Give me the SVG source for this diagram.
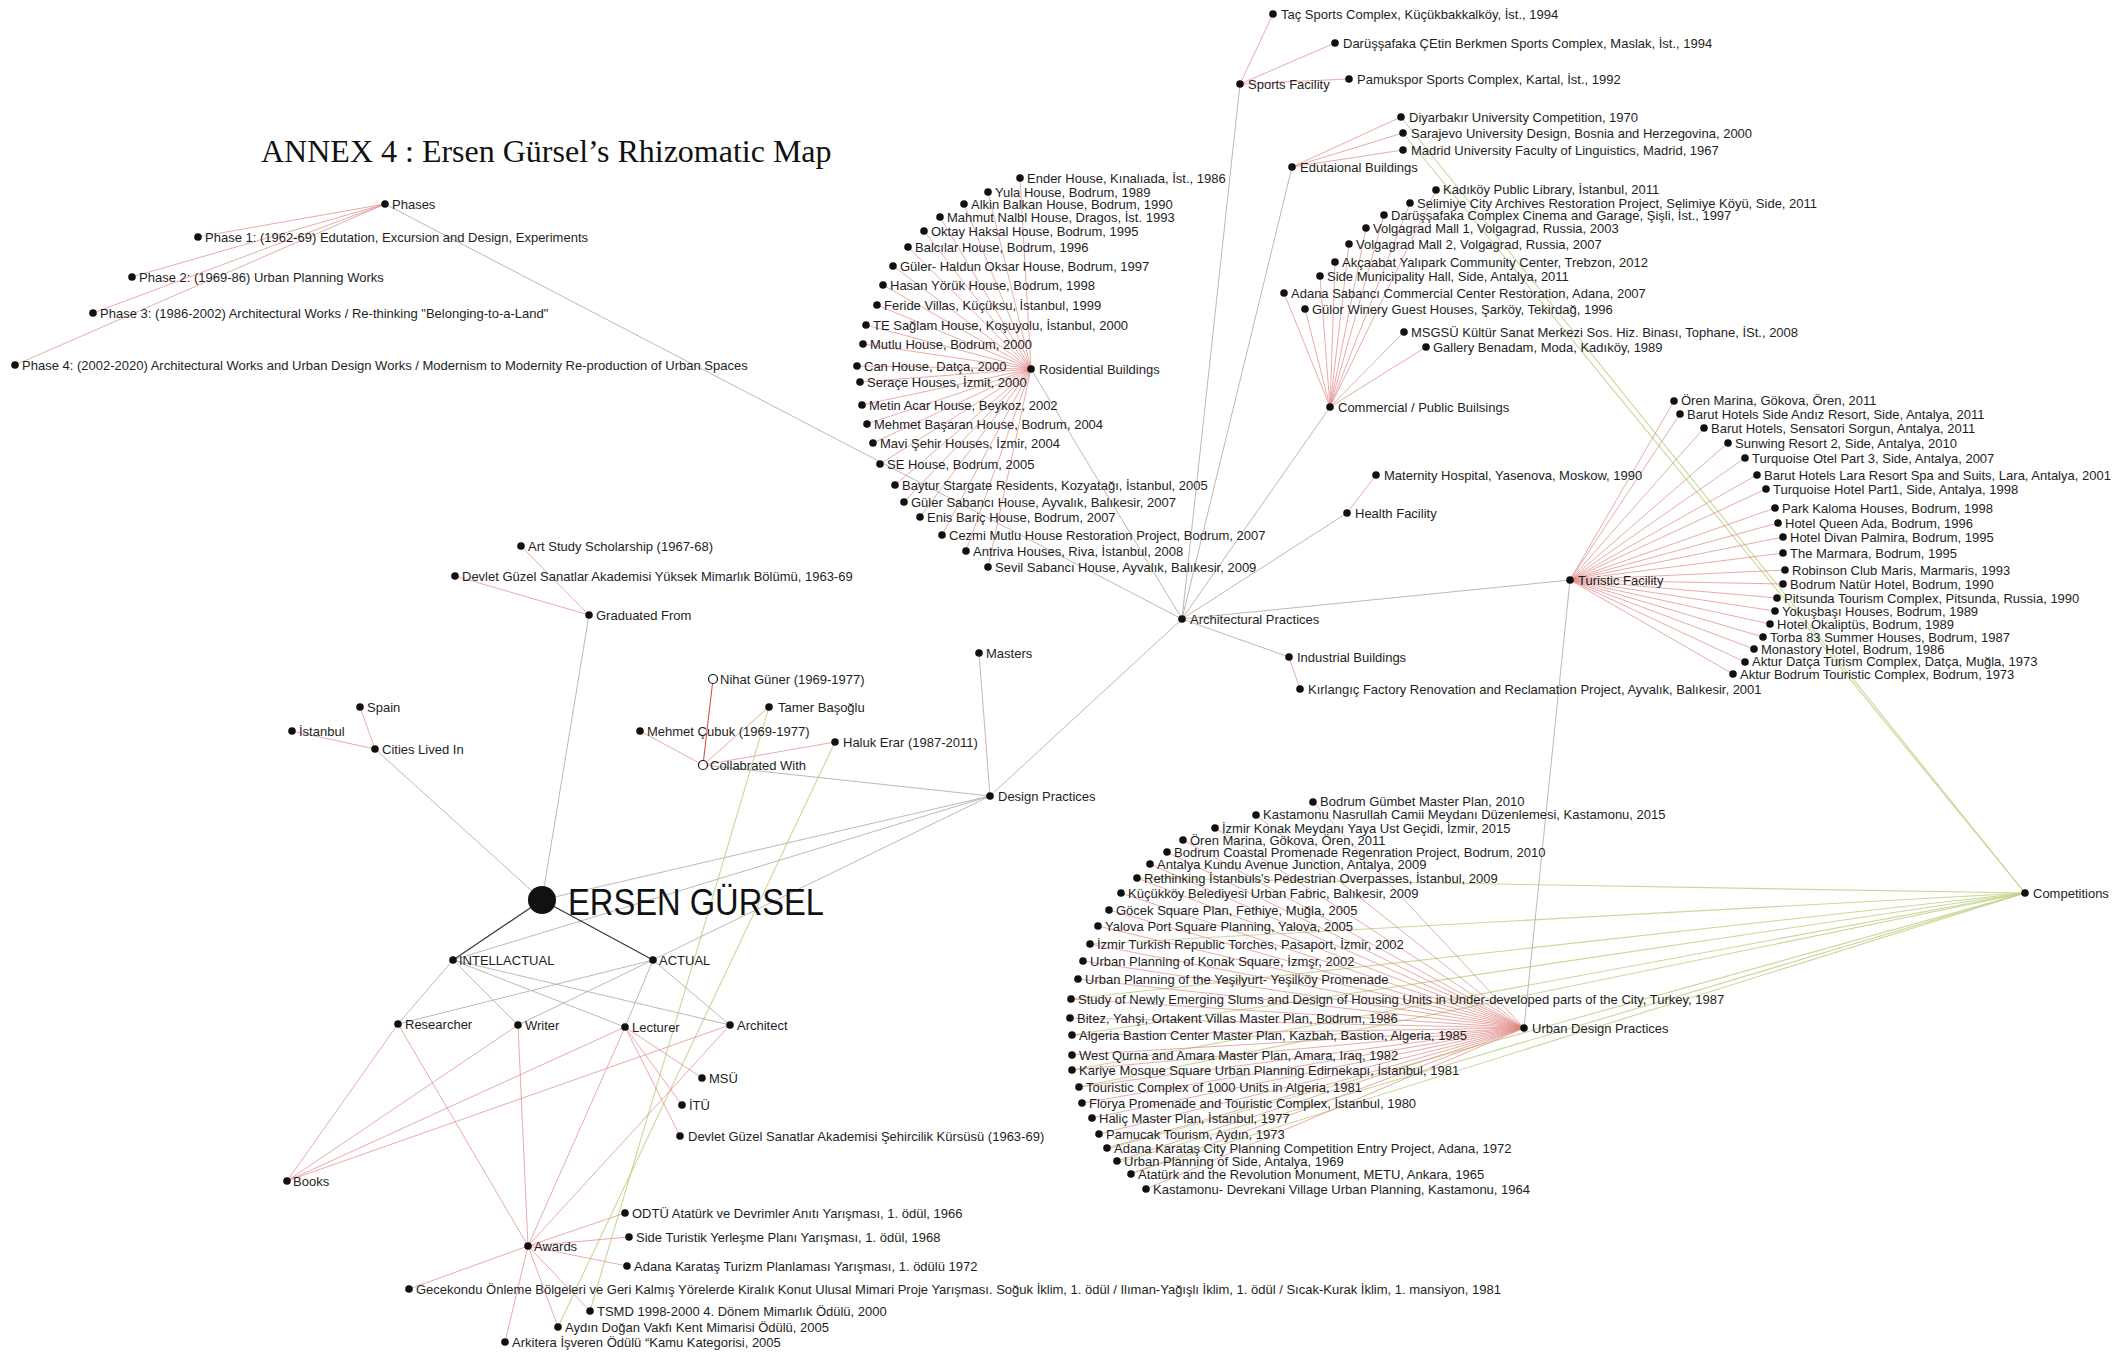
<svg xmlns="http://www.w3.org/2000/svg" width="2121" height="1352" viewBox="0 0 2121 1352">
<style>
  text { font-family: "Liberation Sans", Arial, sans-serif; font-size: 13px; fill: #1e1e1e; }
  .title { font-family: "Liberation Serif", "Times New Roman", serif; font-size: 32px; fill: #111; }
  .big { font-size: 37px; fill: #111; }
  .d { fill: #111; }
  .h { fill: #fff; stroke: #111; stroke-width: 1.2; }
  .ln line { stroke: #b9aeae; stroke-width: 1; stroke-opacity: 0.9; }
  .lr line { stroke: #de8783; stroke-width: 1; stroke-opacity: 0.7; }
  .lg line { stroke: #c2d48f; stroke-width: 1.1; stroke-opacity: 0.9; }
  .lk line { stroke: #3a3a3a; stroke-width: 1.3; }
</style>

<text class="title" x="261" y="162">ANNEX 4 : Ersen Gürsel’s Rhizomatic Map</text>

<g id="connectors">
  <g class="lg">
    <line x1="2025" y1="893" x2="1401" y2="117"/>
    <line x1="2025" y1="893" x2="1403" y2="133"/>
    <line x1="2025" y1="893" x2="1137" y2="878"/>
    <line x1="2025" y1="893" x2="1090" y2="944"/>
    <line x1="2025" y1="893" x2="1071" y2="999"/>
    <line x1="2025" y1="893" x2="1072" y2="1035"/>
    <line x1="2025" y1="893" x2="1072" y2="1070"/>
    <line x1="2025" y1="893" x2="1079" y2="1087"/>
    <line x1="2025" y1="893" x2="1107" y2="1149"/>
    <line x1="2025" y1="893" x2="1117" y2="1163"/>
    <line x1="2025" y1="893" x2="1131" y2="1173"/>
    <line x1="769" y1="707" x2="590" y2="1311"/>
    <line x1="835" y1="742" x2="558" y2="1327"/>
  </g>
  <g class="ln">
    <line x1="453" y1="960" x2="398" y2="1024"/>
    <line x1="453" y1="960" x2="518" y2="1025"/>
    <line x1="453" y1="960" x2="625" y2="1027"/>
    <line x1="453" y1="960" x2="730" y2="1025"/>
    <line x1="653" y1="960" x2="398" y2="1024"/>
    <line x1="653" y1="960" x2="518" y2="1025"/>
    <line x1="653" y1="960" x2="625" y2="1027"/>
    <line x1="653" y1="960" x2="730" y2="1025"/>
    <line x1="589" y1="615" x2="542" y2="900"/>
    <line x1="375" y1="749" x2="542" y2="900"/>
    <line x1="990" y1="796" x2="542" y2="900"/>
    <line x1="990" y1="796" x2="453" y2="960"/>
    <line x1="990" y1="796" x2="653" y2="960"/>
    <line x1="703" y1="765" x2="990" y2="796"/>
    <line x1="979" y1="653" x2="990" y2="796"/>
    <line x1="990" y1="796" x2="1182" y2="619"/>
    <line x1="385" y1="204" x2="1182" y2="619"/>
    <line x1="1182" y1="619" x2="1240" y2="84"/>
    <line x1="1182" y1="619" x2="1292" y2="167"/>
    <line x1="1182" y1="619" x2="1031" y2="369"/>
    <line x1="1182" y1="619" x2="1330" y2="407"/>
    <line x1="1182" y1="619" x2="1347" y2="513"/>
    <line x1="1182" y1="619" x2="1289" y2="657"/>
    <line x1="1182" y1="619" x2="1570" y2="580"/>
    <line x1="1570" y1="580" x2="1524" y2="1028"/>
  </g>
  <g class="lr">
    <!-- phases -->
    <line x1="385" y1="204" x2="198" y2="237"/>
    <line x1="385" y1="204" x2="132" y2="277"/>
    <line x1="385" y1="204" x2="93" y2="313"/>
    <line x1="385" y1="204" x2="15" y2="365"/>
    <!-- education, cities -->
    <line x1="589" y1="615" x2="521" y2="546"/>
    <line x1="589" y1="615" x2="455" y2="576"/>
    <line x1="375" y1="749" x2="360" y2="707"/>
    <line x1="375" y1="749" x2="292" y2="731"/>
    <!-- collaborators -->
    <line x1="703" y1="765" x2="713" y2="679" style="stroke:#c8322e;stroke-opacity:.9"/>
    <line x1="703" y1="765" x2="769" y2="707"/>
    <line x1="703" y1="765" x2="640" y2="731"/>
    <line x1="703" y1="765" x2="835" y2="742"/>
    <!-- roles to outputs -->
    <line x1="398" y1="1024" x2="287" y2="1181"/>
    <line x1="518" y1="1025" x2="287" y2="1181"/>
    <line x1="625" y1="1027" x2="287" y2="1181"/>
    <line x1="730" y1="1025" x2="287" y2="1181"/>
    <line x1="398" y1="1024" x2="528" y2="1246"/>
    <line x1="518" y1="1025" x2="528" y2="1246"/>
    <line x1="625" y1="1027" x2="528" y2="1246"/>
    <line x1="730" y1="1025" x2="528" y2="1246"/>
    <line x1="625" y1="1027" x2="702" y2="1078"/>
    <line x1="625" y1="1027" x2="682" y2="1105"/>
    <line x1="625" y1="1027" x2="680" y2="1136"/>
    <!-- awards -->
    <line x1="528" y1="1246" x2="625" y2="1213"/>
    <line x1="528" y1="1246" x2="629" y2="1237"/>
    <line x1="528" y1="1246" x2="627" y2="1266"/>
    <line x1="528" y1="1246" x2="409" y2="1289"/>
    <line x1="528" y1="1246" x2="590" y2="1311"/>
    <line x1="528" y1="1246" x2="558" y2="1327"/>
    <line x1="528" y1="1246" x2="505" y2="1342"/>
    <!-- sports -->
    <line x1="1240" y1="84" x2="1273" y2="14"/>
    <line x1="1240" y1="84" x2="1335" y2="43"/>
    <line x1="1240" y1="84" x2="1349" y2="79"/>
    <!-- educational -->
    <line x1="1292" y1="167" x2="1401" y2="117"/>
    <line x1="1292" y1="167" x2="1403" y2="133"/>
    <line x1="1292" y1="167" x2="1403" y2="150"/>
    <!-- commercial / public -->
    <line x1="1330" y1="407" x2="1436" y2="190"/>
    <line x1="1330" y1="407" x2="1410" y2="203"/>
    <line x1="1330" y1="407" x2="1384" y2="215"/>
    <line x1="1330" y1="407" x2="1366" y2="228"/>
    <line x1="1330" y1="407" x2="1349" y2="244"/>
    <line x1="1330" y1="407" x2="1335" y2="262"/>
    <line x1="1330" y1="407" x2="1320" y2="276"/>
    <line x1="1330" y1="407" x2="1284" y2="293"/>
    <line x1="1330" y1="407" x2="1305" y2="309"/>
    <line x1="1330" y1="407" x2="1404" y2="332"/>
    <line x1="1330" y1="407" x2="1426" y2="347"/>
    <!-- health, industrial -->
    <line x1="1347" y1="513" x2="1376" y2="475"/>
    <line x1="1289" y1="657" x2="1300" y2="689"/>
    <!-- residential -->
    <line x1="1031" y1="369" x2="1020" y2="178"/>
    <line x1="1031" y1="369" x2="988" y2="192"/>
    <line x1="1031" y1="369" x2="964" y2="204"/>
    <line x1="1031" y1="369" x2="940" y2="217"/>
    <line x1="1031" y1="369" x2="924" y2="231"/>
    <line x1="1031" y1="369" x2="908" y2="247"/>
    <line x1="1031" y1="369" x2="893" y2="266"/>
    <line x1="1031" y1="369" x2="883" y2="285"/>
    <line x1="1031" y1="369" x2="877" y2="305"/>
    <line x1="1031" y1="369" x2="866" y2="325"/>
    <line x1="1031" y1="369" x2="863" y2="344"/>
    <line x1="1031" y1="369" x2="857" y2="366"/>
    <line x1="1031" y1="369" x2="860" y2="382"/>
    <line x1="1031" y1="369" x2="862" y2="405"/>
    <line x1="1031" y1="369" x2="867" y2="424"/>
    <line x1="1031" y1="369" x2="873" y2="443"/>
    <line x1="1031" y1="369" x2="880" y2="464"/>
    <line x1="1031" y1="369" x2="895" y2="485"/>
    <line x1="1031" y1="369" x2="904" y2="502"/>
    <line x1="1031" y1="369" x2="920" y2="517"/>
    <line x1="1031" y1="369" x2="942" y2="535"/>
    <line x1="1031" y1="369" x2="966" y2="551"/>
    <line x1="1031" y1="369" x2="988" y2="567"/>
    <!-- touristic -->
    <line x1="1570" y1="580" x2="1674" y2="401"/>
    <line x1="1570" y1="580" x2="1680" y2="414"/>
    <line x1="1570" y1="580" x2="1704" y2="428"/>
    <line x1="1570" y1="580" x2="1728" y2="443"/>
    <line x1="1570" y1="580" x2="1745" y2="458"/>
    <line x1="1570" y1="580" x2="1757" y2="475"/>
    <line x1="1570" y1="580" x2="1766" y2="489"/>
    <line x1="1570" y1="580" x2="1775" y2="508"/>
    <line x1="1570" y1="580" x2="1778" y2="523"/>
    <line x1="1570" y1="580" x2="1783" y2="537"/>
    <line x1="1570" y1="580" x2="1783" y2="553"/>
    <line x1="1570" y1="580" x2="1785" y2="570"/>
    <line x1="1570" y1="580" x2="1783" y2="584"/>
    <line x1="1570" y1="580" x2="1777" y2="598"/>
    <line x1="1570" y1="580" x2="1775" y2="611"/>
    <line x1="1570" y1="580" x2="1770" y2="624"/>
    <line x1="1570" y1="580" x2="1763" y2="637"/>
    <line x1="1570" y1="580" x2="1754" y2="649"/>
    <line x1="1570" y1="580" x2="1745" y2="662"/>
    <line x1="1570" y1="580" x2="1733" y2="674"/>
    <!-- urban design -->
    <line x1="1524" y1="1028" x2="1313" y2="802"/>
    <line x1="1524" y1="1028" x2="1256" y2="815"/>
    <line x1="1524" y1="1028" x2="1215" y2="828"/>
    <line x1="1524" y1="1028" x2="1183" y2="840"/>
    <line x1="1524" y1="1028" x2="1167" y2="852"/>
    <line x1="1524" y1="1028" x2="1150" y2="864"/>
    <line x1="1524" y1="1028" x2="1137" y2="878"/>
    <line x1="1524" y1="1028" x2="1121" y2="893"/>
    <line x1="1524" y1="1028" x2="1109" y2="910"/>
    <line x1="1524" y1="1028" x2="1098" y2="926"/>
    <line x1="1524" y1="1028" x2="1090" y2="944"/>
    <line x1="1524" y1="1028" x2="1083" y2="961"/>
    <line x1="1524" y1="1028" x2="1078" y2="979"/>
    <line x1="1524" y1="1028" x2="1071" y2="999"/>
    <line x1="1524" y1="1028" x2="1070" y2="1018"/>
    <line x1="1524" y1="1028" x2="1072" y2="1035"/>
    <line x1="1524" y1="1028" x2="1072" y2="1055"/>
    <line x1="1524" y1="1028" x2="1072" y2="1070"/>
    <line x1="1524" y1="1028" x2="1079" y2="1087"/>
    <line x1="1524" y1="1028" x2="1082" y2="1103"/>
    <line x1="1524" y1="1028" x2="1092" y2="1118"/>
    <line x1="1524" y1="1028" x2="1099" y2="1134"/>
    <line x1="1524" y1="1028" x2="1107" y2="1148"/>
    <line x1="1524" y1="1028" x2="1117" y2="1161"/>
    <line x1="1524" y1="1028" x2="1131" y2="1174"/>
    <line x1="1524" y1="1028" x2="1146" y2="1189"/>
  </g>
  <g class="lk">
    <line x1="542" y1="900" x2="453" y2="960"/>
    <line x1="542" y1="900" x2="653" y2="960"/>
  </g>
</g>

<!-- core -->
<g id="n-ersen"><circle class="d" cx="542" cy="900" r="14"/><text class="big" x="568" y="915" textLength="256" lengthAdjust="spacingAndGlyphs">ERSEN GÜRSEL</text></g>
<g id="n-intellactual"><circle class="d" cx="453" cy="960" r="3.8"/><text x="459" y="964.5">INTELLACTUAL</text></g>
<g id="n-actual"><circle class="d" cx="653" cy="960" r="3.8"/><text x="659" y="964.5">ACTUAL</text></g>
<g id="n-researcher"><circle class="d" cx="398" cy="1024" r="3.8"/><text x="405" y="1028.5">Researcher</text></g>
<g id="n-writer"><circle class="d" cx="518" cy="1025" r="3.8"/><text x="525" y="1029.5">Writer</text></g>
<g id="n-lecturer"><circle class="d" cx="625" cy="1027" r="3.8"/><text x="632" y="1031.5">Lecturer</text></g>
<g id="n-architect"><circle class="d" cx="730" cy="1025" r="3.8"/><text x="737" y="1029.5">Architect</text></g>
<g id="n-msu"><circle class="d" cx="702" cy="1078" r="3.8"/><text x="709" y="1082.5">MSÜ</text></g>
<g id="n-itu"><circle class="d" cx="682" cy="1105" r="3.8"/><text x="689" y="1109.5">İTÜ</text></g>
<g id="n-dgsa-sehircilik"><circle class="d" cx="680" cy="1136" r="3.8"/><text x="688" y="1140.5">Devlet Güzel Sanatlar Akademisi Şehircilik Kürsüsü (1963-69)</text></g>
<g id="n-books"><circle class="d" cx="287" cy="1181" r="3.8"/><text x="293" y="1185.5">Books</text></g>
<g id="n-awards"><circle class="d" cx="528" cy="1246" r="3.8"/><text x="534" y="1250.5">Awards</text></g>
<g id="n-odtu"><circle class="d" cx="625" cy="1213" r="3.8"/><text x="632" y="1217.5">ODTÜ Atatürk ve Devrimler Anıtı Yarışması, 1. ödül, 1966</text></g>
<g id="n-side-yarisma"><circle class="d" cx="629" cy="1237" r="3.8"/><text x="636" y="1241.5">Side Turistik Yerleşme Planı Yarışması, 1. ödül, 1968</text></g>
<g id="n-adana-yarisma"><circle class="d" cx="627" cy="1266" r="3.8"/><text x="634" y="1270.5">Adana Karataş Turizm Planlaması Yarışması, 1. ödülü 1972</text></g>
<g id="n-gecekondu"><circle class="d" cx="409" cy="1289" r="3.8"/><text x="416" y="1293.5">Gecekondu Önleme Bölgeleri ve Geri Kalmış Yörelerde Kiralık Konut Ulusal Mimari Proje Yarışması. Soğuk İklim, 1. ödül / Ilıman-Yağışlı İklim, 1. ödül / Sıcak-Kurak İklim, 1. mansiyon, 1981</text></g>
<g id="n-tsmd"><circle class="d" cx="590" cy="1311" r="3.8"/><text x="597" y="1315.5">TSMD 1998-2000 4. Dönem Mimarlık Ödülü, 2000</text></g>
<g id="n-aydin-dogan"><circle class="d" cx="558" cy="1327" r="3.8"/><text x="565" y="1331.5">Aydın Doğan Vakfı Kent Mimarisi Ödülü, 2005</text></g>
<g id="n-arkitera"><circle class="d" cx="505" cy="1342" r="3.8"/><text x="512" y="1346.5">Arkitera İşveren Ödülü “Kamu Kategorisi, 2005</text></g>

<!-- education and cities -->
<g id="n-graduated"><circle class="d" cx="589" cy="615" r="3.8"/><text x="596" y="619.5">Graduated From</text></g>
<g id="n-art-study"><circle class="d" cx="521" cy="546" r="3.8"/><text x="528" y="550.5">Art Study Scholarship (1967-68)</text></g>
<g id="n-dgsa-mimarlik"><circle class="d" cx="455" cy="576" r="3.8"/><text x="462" y="580.5">Devlet Güzel Sanatlar Akademisi Yüksek Mimarlık Bölümü, 1963-69</text></g>
<g id="n-cities"><circle class="d" cx="375" cy="749" r="3.8"/><text x="382" y="753.5">Cities Lived In</text></g>
<g id="n-spain"><circle class="d" cx="360" cy="707" r="3.8"/><text x="367" y="711.5">Spain</text></g>
<g id="n-istanbul"><circle class="d" cx="292" cy="731" r="3.8"/><text x="299" y="735.5">İstanbul</text></g>

<!-- phases -->
<g id="n-phases"><circle class="d" cx="385" cy="204" r="3.8"/><text x="392" y="208.5">Phases</text></g>
<g id="n-phase1"><circle class="d" cx="198" cy="237" r="3.8"/><text x="205" y="241.5">Phase 1: (1962-69) Edutation, Excursion and Design, Experiments</text></g>
<g id="n-phase2"><circle class="d" cx="132" cy="277" r="3.8"/><text x="139" y="281.5">Phase 2: (1969-86) Urban Planning Works</text></g>
<g id="n-phase3"><circle class="d" cx="93" cy="313" r="3.8"/><text x="100" y="317.5">Phase 3: (1986-2002) Architectural Works / Re-thinking "Belonging-to-a-Land"</text></g>
<g id="n-phase4"><circle class="d" cx="15" cy="365" r="3.8"/><text x="22" y="369.5">Phase 4: (2002-2020) Architectural Works and Urban Design Works / Modernism to Modernity Re-production of Urban Spaces</text></g>

<!-- collaborators -->
<g id="n-collabrated"><circle class="h" cx="703" cy="765" r="4.5"/><text x="710" y="769.5">Collabrated With</text></g>
<g id="n-nihat"><circle class="h" cx="713" cy="679" r="4.5"/><text x="720" y="683.5">Nihat Güner (1969-1977)</text></g>
<g id="n-tamer"><circle class="d" cx="769" cy="707" r="3.8"/><text x="778" y="711.5">Tamer Başoğlu</text></g>
<g id="n-mehmet"><circle class="d" cx="640" cy="731" r="3.8"/><text x="647" y="735.5">Mehmet Çubuk (1969-1977)</text></g>
<g id="n-haluk"><circle class="d" cx="835" cy="742" r="3.8"/><text x="843" y="746.5">Haluk Erar (1987-2011)</text></g>
<g id="n-masters"><circle class="d" cx="979" cy="653" r="3.8"/><text x="986" y="657.5">Masters</text></g>
<g id="n-design"><circle class="d" cx="990" cy="796" r="3.8"/><text x="998" y="800.5">Design Practices</text></g>

<!-- architectural practices -->
<g id="n-arch"><circle class="d" cx="1182" cy="619" r="3.8"/><text x="1190" y="623.5">Architectural Practices</text></g>
<g id="n-sports"><circle class="d" cx="1240" cy="84" r="3.8"/><text x="1248" y="88.5">Sports Facility</text></g>
<g id="n-tac"><circle class="d" cx="1273" cy="14" r="3.8"/><text x="1281" y="18.5">Taç Sports Complex, Küçükbakkalköy, İst., 1994</text></g>
<g id="n-darussafaka-sports"><circle class="d" cx="1335" cy="43" r="3.8"/><text x="1343" y="47.5">Darüşşafaka ÇEtin Berkmen Sports Complex, Maslak, İst., 1994</text></g>
<g id="n-pamukspor"><circle class="d" cx="1349" cy="79" r="3.8"/><text x="1357" y="83.5">Pamukspor Sports Complex, Kartal, İst., 1992</text></g>

<g id="n-educational"><circle class="d" cx="1292" cy="167" r="3.8"/><text x="1300" y="171.5">Edutaional Buildings</text></g>
<g id="n-diyarbakir"><circle class="d" cx="1401" cy="117" r="3.8"/><text x="1409" y="121.5">Diyarbakır University Competition, 1970</text></g>
<g id="n-sarajevo"><circle class="d" cx="1403" cy="133" r="3.8"/><text x="1411" y="137.5">Sarajevo University Design, Bosnia and Herzegovina, 2000</text></g>
<g id="n-madrid"><circle class="d" cx="1403" cy="150" r="3.8"/><text x="1411" y="154.5">Madrid University Faculty of Linguistics, Madrid, 1967</text></g>

<g id="n-commercial"><circle class="d" cx="1330" cy="407" r="3.8"/><text x="1338" y="411.5">Commercial / Public Builsings</text></g>
<g id="n-kadikoy-library"><circle class="d" cx="1436" cy="190" r="3.8"/><text x="1443" y="194">Kadıköy Public Library, İstanbul, 2011</text></g>
<g id="n-selimiye"><circle class="d" cx="1410" cy="203" r="3.8"/><text x="1417" y="207.5">Selimiye City Archives Restoration Project, Selimiye Köyü, Side, 2011</text></g>
<g id="n-darussafaka-cinema"><circle class="d" cx="1384" cy="215" r="3.8"/><text x="1391" y="219.5">Darüşşafaka Complex Cinema and Garage, Şişli, İst., 1997</text></g>
<g id="n-volgagrad1"><circle class="d" cx="1366" cy="228" r="3.8"/><text x="1373" y="232.5">Volgagrad Mall 1, Volgagrad, Russia, 2003</text></g>
<g id="n-volgagrad2"><circle class="d" cx="1349" cy="244" r="3.8"/><text x="1356" y="248.5">Volgagrad Mall 2, Volgagrad, Russia, 2007</text></g>
<g id="n-akcaabat"><circle class="d" cx="1335" cy="262" r="3.8"/><text x="1342" y="266.5">Akçaabat Yalıpark Community Center, Trebzon, 2012</text></g>
<g id="n-side-hall"><circle class="d" cx="1320" cy="276" r="3.8"/><text x="1327" y="280.5">Side Municipality Hall, Side, Antalya, 2011</text></g>
<g id="n-adana-sabanci"><circle class="d" cx="1284" cy="293" r="3.8"/><text x="1291" y="297.5">Adana Sabancı Commercial Center Restoration, Adana, 2007</text></g>
<g id="n-gulor"><circle class="d" cx="1305" cy="309" r="3.8"/><text x="1312" y="313.5">Gülor Winery Guest Houses, Şarköy, Tekirdağ, 1996</text></g>
<g id="n-msgsu"><circle class="d" cx="1404" cy="332" r="3.8"/><text x="1411" y="336.5">MSGSÜ Kültür Sanat Merkezi Sos. Hiz. Binası, Tophane, İSt., 2008</text></g>
<g id="n-benadam"><circle class="d" cx="1426" cy="347" r="3.8"/><text x="1433" y="351.5">Gallery Benadam, Moda, Kadıköy, 1989</text></g>

<g id="n-health"><circle class="d" cx="1347" cy="513" r="3.8"/><text x="1355" y="517.5">Health Facility</text></g>
<g id="n-maternity"><circle class="d" cx="1376" cy="475" r="3.8"/><text x="1384" y="479.5">Maternity Hospital, Yasenova, Moskow, 1990</text></g>
<g id="n-industrial"><circle class="d" cx="1289" cy="657" r="3.8"/><text x="1297" y="661.5">Industrial Buildings</text></g>
<g id="n-kirlangic"><circle class="d" cx="1300" cy="689" r="3.8"/><text x="1308" y="693.5">Kırlangıç Factory Renovation and Reclamation Project, Ayvalık, Balıkesir, 2001</text></g>

<g id="n-residential"><circle class="d" cx="1031" cy="369" r="3.8"/><text x="1039" y="373.5">Rosidential Buildings</text></g>
<g id="n-ender"><circle class="d" cx="1020" cy="178" r="3.8"/><text x="1027" y="182.5">Ender House, Kınalıada, İst., 1986</text></g>
<g id="n-yula"><circle class="d" cx="988" cy="192" r="3.8"/><text x="995" y="196.5">Yula House, Bodrum, 1989</text></g>
<g id="n-alkin"><circle class="d" cx="964" cy="204" r="3.8"/><text x="971" y="208.5">Alkin Balkan House, Bodrum, 1990</text></g>
<g id="n-mahmut"><circle class="d" cx="940" cy="217" r="3.8"/><text x="947" y="221.5">Mahmut Nalbl House, Dragos, İst. 1993</text></g>
<g id="n-oktay"><circle class="d" cx="924" cy="231" r="3.8"/><text x="931" y="235.5">Oktay Haksal House, Bodrum, 1995</text></g>
<g id="n-balcilar"><circle class="d" cx="908" cy="247" r="3.8"/><text x="915" y="251.5">Balcılar House, Bodrum, 1996</text></g>
<g id="n-guler-haldun"><circle class="d" cx="893" cy="266" r="3.8"/><text x="900" y="270.5">Güler- Haldun Oksar House, Bodrum, 1997</text></g>
<g id="n-hasan"><circle class="d" cx="883" cy="285" r="3.8"/><text x="890" y="289.5">Hasan Yörük House, Bodrum, 1998</text></g>
<g id="n-feride"><circle class="d" cx="877" cy="305" r="3.8"/><text x="884" y="309.5">Feride Villas, Küçüksu, İstanbul, 1999</text></g>
<g id="n-te-saglam"><circle class="d" cx="866" cy="325" r="3.8"/><text x="873" y="329.5">TE Sağlam House, Koşuyolu, İstanbul, 2000</text></g>
<g id="n-mutlu"><circle class="d" cx="863" cy="344" r="3.8"/><text x="870" y="348.5">Mutlu House, Bodrum, 2000</text></g>
<g id="n-can"><circle class="d" cx="857" cy="366" r="3.8"/><text x="864" y="370.5">Can House, Datça, 2000</text></g>
<g id="n-serace"><circle class="d" cx="860" cy="382" r="3.8"/><text x="867" y="386.5">Seraçe Houses, İzmit, 2000</text></g>
<g id="n-metin"><circle class="d" cx="862" cy="405" r="3.8"/><text x="869" y="409.5">Metin Acar House, Beykoz, 2002</text></g>
<g id="n-basaran"><circle class="d" cx="867" cy="424" r="3.8"/><text x="874" y="428.5">Mehmet Başaran House, Bodrum, 2004</text></g>
<g id="n-mavisehir"><circle class="d" cx="873" cy="443" r="3.8"/><text x="880" y="447.5">Mavi Şehir Houses, İzmir, 2004</text></g>
<g id="n-se-house"><circle class="d" cx="880" cy="464" r="3.8"/><text x="887" y="468.5">SE House, Bodrum, 2005</text></g>
<g id="n-baytur"><circle class="d" cx="895" cy="485" r="3.8"/><text x="902" y="489.5">Baytur Stargate Residents, Kozyatağı, İstanbul, 2005</text></g>
<g id="n-guler-sabanci"><circle class="d" cx="904" cy="502" r="3.8"/><text x="911" y="506.5">Güler Sabancı House, Ayvalık, Balıkesir, 2007</text></g>
<g id="n-enis"><circle class="d" cx="920" cy="517" r="3.8"/><text x="927" y="521.5">Enis Bariç House, Bodrum, 2007</text></g>
<g id="n-cezmi"><circle class="d" cx="942" cy="535" r="3.8"/><text x="949" y="539.5">Cezmi Mutlu House Restoration Project, Bodrum, 2007</text></g>
<g id="n-antriva"><circle class="d" cx="966" cy="551" r="3.8"/><text x="973" y="555.5">Antriva Houses, Riva, İstanbul, 2008</text></g>
<g id="n-sevil"><circle class="d" cx="988" cy="567" r="3.8"/><text x="995" y="571.5">Sevil Sabancı House, Ayvalık, Balıkesir, 2009</text></g>

<g id="n-turistic"><circle class="d" cx="1570" cy="580" r="3.8"/><text x="1578" y="584.5">Turistic Facility</text></g>
<g id="n-t-oren"><circle class="d" cx="1674" cy="401" r="3.8"/><text x="1681" y="405">Ören Marina, Gökova, Ören, 2011</text></g>
<g id="n-t-andiz"><circle class="d" cx="1680" cy="414" r="3.8"/><text x="1687" y="418.5">Barut Hotels Side Andız Resort, Side, Antalya, 2011</text></g>
<g id="n-t-sensatori"><circle class="d" cx="1704" cy="428" r="3.8"/><text x="1711" y="432.5">Barut Hotels, Sensatori Sorgun, Antalya, 2011</text></g>
<g id="n-t-sunwing"><circle class="d" cx="1728" cy="443" r="3.8"/><text x="1735" y="447.5">Sunwing Resort 2, Side, Antalya, 2010</text></g>
<g id="n-t-turquoise3"><circle class="d" cx="1745" cy="458" r="3.8"/><text x="1752" y="462.5">Turquoise Otel Part 3, Side, Antalya, 2007</text></g>
<g id="n-t-lara"><circle class="d" cx="1757" cy="475" r="3.8"/><text x="1764" y="479.5">Barut Hotels Lara Resort Spa and Suits, Lara, Antalya, 2001</text></g>
<g id="n-t-turquoise1"><circle class="d" cx="1766" cy="489" r="3.8"/><text x="1773" y="493.5">Turquoise Hotel Part1, Side, Antalya, 1998</text></g>
<g id="n-t-kaloma"><circle class="d" cx="1775" cy="508" r="3.8"/><text x="1782" y="512.5">Park Kaloma Houses, Bodrum, 1998</text></g>
<g id="n-t-queen-ada"><circle class="d" cx="1778" cy="523" r="3.8"/><text x="1785" y="527.5">Hotel Queen Ada, Bodrum, 1996</text></g>
<g id="n-t-divan"><circle class="d" cx="1783" cy="537" r="3.8"/><text x="1790" y="541.5">Hotel Divan Palmira, Bodrum, 1995</text></g>
<g id="n-t-marmara"><circle class="d" cx="1783" cy="553" r="3.8"/><text x="1790" y="557.5">The Marmara, Bodrum, 1995</text></g>
<g id="n-t-robinson"><circle class="d" cx="1785" cy="570" r="3.8"/><text x="1792" y="574.5">Robinson Club Maris, Marmaris, 1993</text></g>
<g id="n-t-natur"><circle class="d" cx="1783" cy="584" r="3.8"/><text x="1790" y="588.5">Bodrum Natür Hotel, Bodrum, 1990</text></g>
<g id="n-t-pitsunda"><circle class="d" cx="1777" cy="598" r="3.8"/><text x="1784" y="602.5">Pitsunda Tourism Complex, Pitsunda, Russia, 1990</text></g>
<g id="n-t-yokusbasi"><circle class="d" cx="1775" cy="611" r="3.8"/><text x="1782" y="615.5">Yokuşbaşı Houses, Bodrum, 1989</text></g>
<g id="n-t-okaliptus"><circle class="d" cx="1770" cy="624" r="3.8"/><text x="1777" y="628.5">Hotel Okaliptüs, Bodrum, 1989</text></g>
<g id="n-t-torba"><circle class="d" cx="1763" cy="637" r="3.8"/><text x="1770" y="641.5">Torba 83 Summer Houses, Bodrum, 1987</text></g>
<g id="n-t-monastory"><circle class="d" cx="1754" cy="649" r="3.8"/><text x="1761" y="653.5">Monastory Hotel, Bodrum, 1986</text></g>
<g id="n-t-aktur-datca"><circle class="d" cx="1745" cy="662" r="3.8"/><text x="1752" y="666">Aktur Datça Turism Complex, Datça, Muğla, 1973</text></g>
<g id="n-t-aktur-bodrum"><circle class="d" cx="1733" cy="674" r="3.8"/><text x="1740" y="678.5">Aktur Bodrum Touristic Complex, Bodrum, 1973</text></g>

<!-- urban design practices -->
<g id="n-urban"><circle class="d" cx="1524" cy="1028" r="3.8"/><text x="1532" y="1032.5">Urban Design Practices</text></g>
<g id="n-u-gumbet"><circle class="d" cx="1313" cy="802" r="3.8"/><text x="1320" y="806">Bodrum Gümbet Master Plan, 2010</text></g>
<g id="n-u-nasrullah"><circle class="d" cx="1256" cy="815" r="3.8"/><text x="1263" y="819">Kastamonu Nasrullah Camii Meydanı Düzenlemesi, Kastamonu, 2015</text></g>
<g id="n-u-konak-gecit"><circle class="d" cx="1215" cy="828" r="3.8"/><text x="1222" y="833">İzmir Konak Meydanı Yaya Ust Geçidi, İzmir, 2015</text></g>
<g id="n-u-oren"><circle class="d" cx="1183" cy="840" r="3.8"/><text x="1190" y="844.5">Ören Marina, Gökova, Ören, 2011</text></g>
<g id="n-u-coastal"><circle class="d" cx="1167" cy="852" r="3.8"/><text x="1174" y="856.5">Bodrum Coastal Promenade Regenration Project, Bodrum, 2010</text></g>
<g id="n-u-kundu"><circle class="d" cx="1150" cy="864" r="3.8"/><text x="1157" y="868.5">Antalya Kundu Avenue Junction, Antalya, 2009</text></g>
<g id="n-u-overpasses"><circle class="d" cx="1137" cy="878" r="3.8"/><text x="1144" y="882.5">Rethinking İstanbuls's Pedestrian Overpasses, İstanbul, 2009</text></g>
<g id="n-u-kucukkoy"><circle class="d" cx="1121" cy="893" r="3.8"/><text x="1128" y="897.5">Küçükköy Belediyesi Urban Fabric, Balıkesir, 2009</text></g>
<g id="n-u-gocek"><circle class="d" cx="1109" cy="910" r="3.8"/><text x="1116" y="914.5">Göcek Square Plan, Fethiye, Muğla, 2005</text></g>
<g id="n-u-yalova"><circle class="d" cx="1098" cy="926" r="3.8"/><text x="1105" y="930.5">Yalova Port Square Planning, Yalova, 2005</text></g>
<g id="n-u-torches"><circle class="d" cx="1090" cy="944" r="3.8"/><text x="1097" y="948.5">İzmir Turkish Republic Torches, Pasaport, İzmir, 2002</text></g>
<g id="n-u-konak-square"><circle class="d" cx="1083" cy="961" r="3.8"/><text x="1090" y="965.5">Urban Planning of Konak Square, İzmşr, 2002</text></g>
<g id="n-u-yesilyurt"><circle class="d" cx="1078" cy="979" r="3.8"/><text x="1085" y="983.5">Urban Planning of the Yeşilyurt- Yeşilköy Promenade</text></g>
<g id="n-u-slums"><circle class="d" cx="1071" cy="999" r="3.8"/><text x="1078" y="1003.5">Study of Newly Emerging Slums and Design of Housing Units in Under-developed parts of the City, Turkey, 1987</text></g>
<g id="n-u-bitez"><circle class="d" cx="1070" cy="1018" r="3.8"/><text x="1077" y="1022.5">Bitez, Yahşi, Ortakent Villas Master Plan, Bodrum, 1986</text></g>
<g id="n-u-algeria"><circle class="d" cx="1072" cy="1035" r="3.8"/><text x="1079" y="1039.5">Algeria Bastion Center Master Plan, Kazbah, Bastion, Algeria, 1985</text></g>
<g id="n-u-qurna"><circle class="d" cx="1072" cy="1055" r="3.8"/><text x="1079" y="1059.5">West Qurna and Amara Master Plan, Amara, Iraq, 1982</text></g>
<g id="n-u-kariye"><circle class="d" cx="1072" cy="1070" r="3.8"/><text x="1079" y="1074.5">Kariye Mosque Square Urban Planning Edirnekapı, İstanbul, 1981</text></g>
<g id="n-u-touristic-1000"><circle class="d" cx="1079" cy="1087" r="3.8"/><text x="1086" y="1091.5">Touristic Complex of 1000 Units in Algeria, 1981</text></g>
<g id="n-u-florya"><circle class="d" cx="1082" cy="1103" r="3.8"/><text x="1089" y="1107.5">Florya Promenade and Touristic Complex, İstanbul, 1980</text></g>
<g id="n-u-halic"><circle class="d" cx="1092" cy="1118" r="3.8"/><text x="1099" y="1122.5">Haliç Master Plan, İstanbul, 1977</text></g>
<g id="n-u-pamucak"><circle class="d" cx="1099" cy="1134" r="3.8"/><text x="1106" y="1138.5">Pamucak Tourism, Aydın, 1973</text></g>
<g id="n-u-adana"><circle class="d" cx="1107" cy="1148" r="3.8"/><text x="1114" y="1152.5">Adana Karataş City Planning Competition Entry Project, Adana, 1972</text></g>
<g id="n-u-side"><circle class="d" cx="1117" cy="1161" r="3.8"/><text x="1124" y="1165.5">Urban Planning of Side, Antalya, 1969</text></g>
<g id="n-u-ataturk"><circle class="d" cx="1131" cy="1174" r="3.8"/><text x="1138" y="1178.5">Atatürk and the Revolution Monument, METU, Ankara, 1965</text></g>
<g id="n-u-devrekani"><circle class="d" cx="1146" cy="1189" r="3.8"/><text x="1153" y="1193.5">Kastamonu- Devrekani Village Urban Planning, Kastamonu, 1964</text></g>

<g id="n-competitions"><circle class="d" cx="2025" cy="893" r="3.8"/><text x="2033" y="897.5">Competitions</text></g>
</svg>
